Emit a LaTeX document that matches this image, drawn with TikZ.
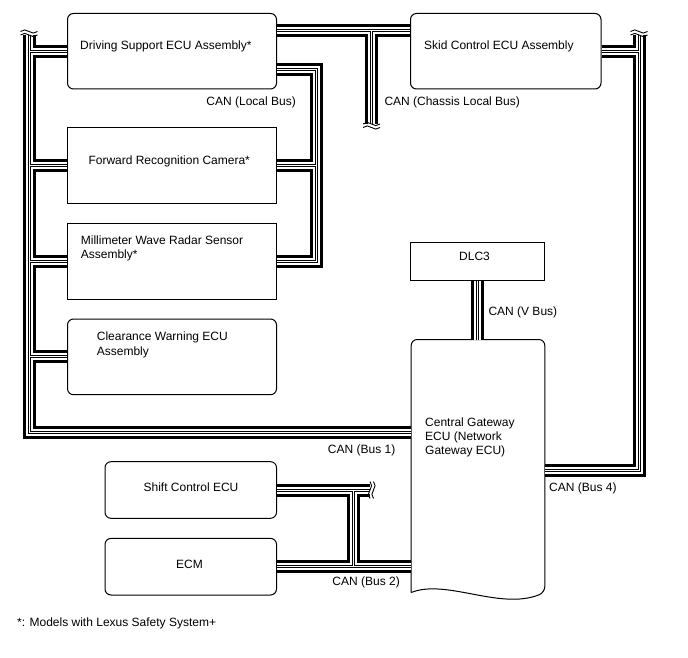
\documentclass[tikz,border=0pt]{standalone}
\usepackage{fontspec}
\setmainfont{Liberation Sans}

\begin{document}
\begin{tikzpicture}[x=1pt, y=-1pt,
    ecu/.style={draw, line width=1pt, rounded corners=6pt, fill=white, inner sep=0pt},
    box/.style={draw, line width=1pt, fill=white, inner sep=0pt},
    txt/.style={font=\fontsize{12}{14.3}\selectfont, inner sep=0pt, align=left},
    brk/.pic={\foreach \d in {0,-3.5} \draw[line width=.9pt] (-8.5,\d) sin (-4.25,\d-1.6) cos (0,\d) sin (4.25,\d+1.6) cos (8.5,\d);}
  ]
  \useasboundingbox (0,0) rectangle (688,658);

  % units
  \node[ecu, minimum width=209, minimum height=75.5] (drv) at (172,51.25) {};
  \node[ecu, minimum width=190.5, minimum height=75.5] (skid) at (505.75,51.25) {};
  \node[box, minimum width=209, minimum height=76] (fwd) at (172,165.5) {};
  \node[box, minimum width=209, minimum height=76] (mmw) at (172,261) {};
  \node[ecu, minimum width=209, minimum height=75.7] (cwe) at (172,356.85) {};
  \node[box, minimum width=134.3, minimum height=37.7] (dlc) at (477.15,261.15) {};
  \node[ecu, draw=none, fill=none, minimum width=132.6, minimum height=252] (gw) at (478,466) {};
  \node[ecu, minimum width=171.5, minimum height=56.6] (shift) at (190.75,490) {};
  \node[ecu, minimum width=171.5, minimum height=56.6] (ecm) at (190.75,566.7) {};
  \draw[line width=1pt] (gw.south west) [rounded corners=6pt] -- (gw.north west) -- (gw.north east) -- (gw.south east)
    [sharp corners] .. controls +(-45,18) and +(35,-14) .. (gw.south west);

  \node[txt, anchor=west] (drvt) at (80,46) {Driving Support ECU Assembly*};
  \node[txt, anchor=west] (skidt) at (424,46) {Skid Control ECU Assembly};
  \node[txt, anchor=west] (fwdt) at (88.3,161) {Forward Recognition Camera*};
  \node[txt, anchor=west] (mmwt) at (80.7,248.5) {Millimeter Wave Radar Sensor\\Assembly*};
  \node[txt, anchor=west] (cwet) at (96.7,345) {Clearance Warning ECU\\Assembly};
  \node[txt, anchor=west] (gwt) at (425,437.5) {Central Gateway\\ECU (Network\\Gateway ECU)};
  \node[txt] (dlct) at (474.5,256) {DLC3};
  \node[txt] (shiftt) at (191,487.5) {Shift Control ECU};
  \node[txt] (ecmt) at (189.5,564) {ECM};

  % bus corners and breaks
  \coordinate (b1top) at (29,35);
  \coordinate (b1cor) at (29,432.5);
  \coordinate (lbcor) at (316,69.5);
  \coordinate (chj) at (371.5,31);
  \coordinate (chbrk) at (371.5,124);
  \coordinate (b4top) at (639,35);
  \coordinate (b4cor) at (639,470.5);
  \coordinate (b2v) at (353,489);
  \coordinate (b2brk) at (370,489);

  \foreach \w/\c in {13/black, 7/white, 3/black, 1/white} {
    \draw[line width=\w pt, \c]
      (b1top) -- (b1cor) -- (b1cor -| gw.west)
      (drv.west -| b1top) -- (drv.west)
      (fwd.west -| b1top) -- (fwd.west)
      (mmw.west -| b1top) -- (mmw.west)
      (cwe.west -| b1top) -- (cwe.west)
      (lbcor -| drv.east) -- (lbcor) -- (lbcor |- mmw.east) -- (mmw.east)
      (fwd.east -| lbcor) -- (fwd.east)
      (chj -| drv.east) -- (chj -| skid.west)
      (chj) -- (chbrk)
      (skid.east) -- (skid.east -| b4top)
      (b4top) -- (b4cor) -- (b4cor -| gw.east)
      (dlc.south) -- (dlc.south |- gw.north)
      (shift.east) -- (shift.east -| b2brk)
      (shift.east -| b2v) -- (ecm.east -| b2v)
      (ecm.east) -- (ecm.east -| gw.west);
  }
  \pic at (b1top) {brk};
  \pic at (b4top) {brk};
  \pic[rotate=180] at (chbrk) {brk};
  \pic[rotate=-90] at (shift.east -| b2brk) {brk};

  \node[txt, anchor=east] (lclt) at (296,102.5) {CAN (Local Bus)};
  \node[txt, anchor=west] (chst) at (384.3,102.5) {CAN (Chassis Local Bus)};
  \node[txt, anchor=west] (vbt) at (488.3,312) {CAN (V Bus)};
  \node[txt, anchor=east] (b1t) at (395.5,450) {CAN (Bus 1)};
  \node[txt, anchor=west] (b4t) at (549,488.3) {CAN (Bus 4)};
  \node[txt, anchor=east] (b2t) at (400,582.7) {CAN (Bus 2)};
  \node[txt, anchor=west] (note) at (17,623) {*: Models with Lexus Safety System+};
\end{tikzpicture}
\end{document}
